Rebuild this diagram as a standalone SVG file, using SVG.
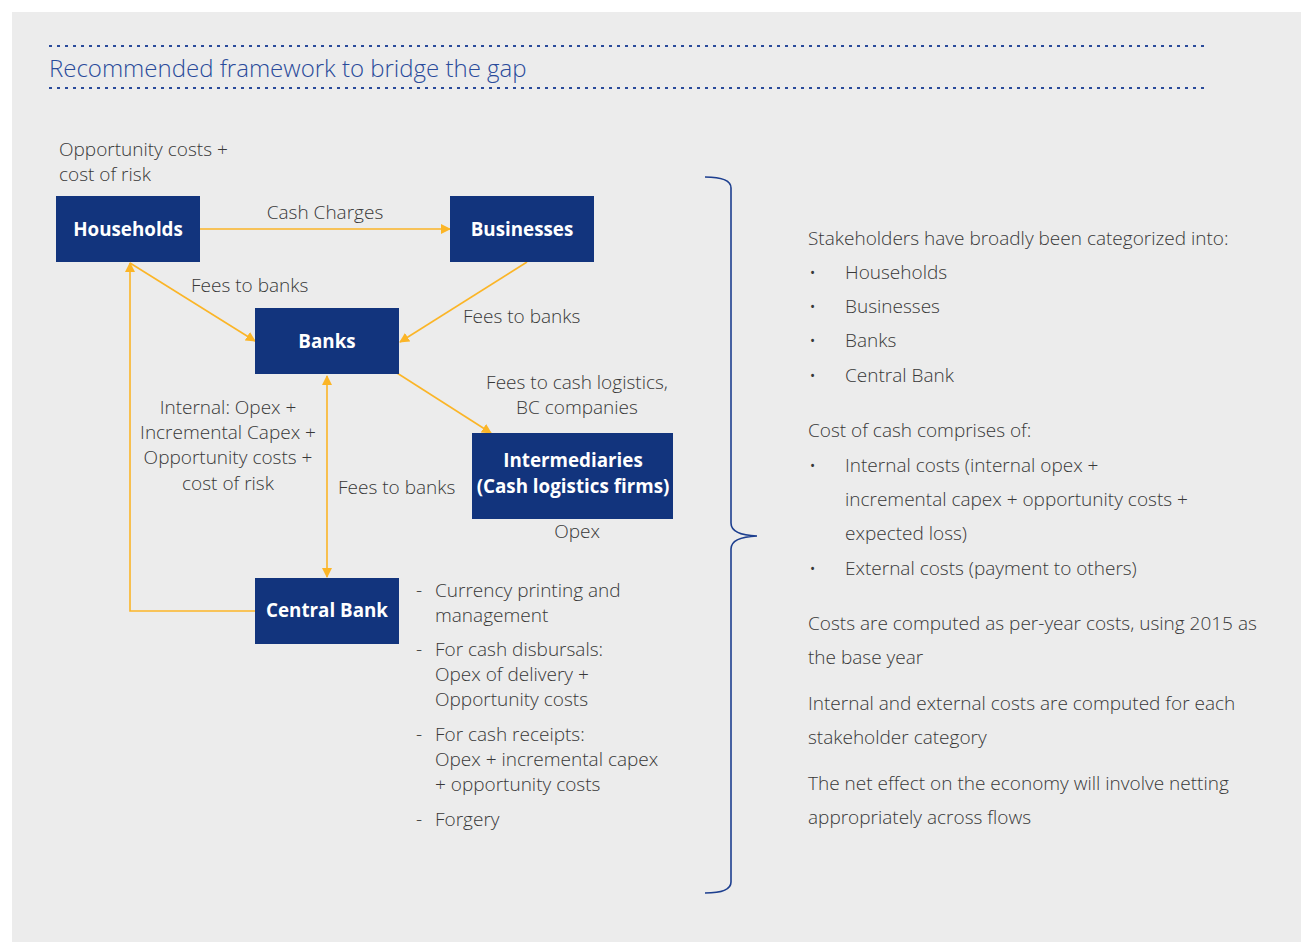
<svg xmlns="http://www.w3.org/2000/svg" width="1301" height="942" viewBox="0 0 1301 942">
<style>
.t{font-family:"Open Sans","Liberation Sans",sans-serif;font-weight:300;font-size:19px;fill:#383838}
.c{text-anchor:middle}
.n{fill:#12347d}
.nt{font-family:"Open Sans","Liberation Sans",sans-serif;font-weight:700;font-size:18.8px;fill:#ffffff;text-anchor:middle}
.e{fill:none;stroke:#fbb527;stroke-width:1.6}
.dot{fill:none;stroke:#2a4b9b;stroke-width:2;stroke-dasharray:3 5}
</style>
<defs>
<marker id="ah" viewBox="0 0 10 10" refX="9" refY="5" markerWidth="10" markerHeight="10" markerUnits="userSpaceOnUse" orient="auto-start-reverse">
<path d="M0,0 L10,5 L0,10 z" fill="#fbb527"/>
</marker>
</defs>
<rect x="0" y="0" width="1301" height="942" fill="#ffffff"/>
<rect x="12" y="12" width="1289" height="930" fill="#ececec"/>
<line class="dot" x1="49" y1="46" x2="1207" y2="46"/>
<line class="dot" x1="49" y1="88" x2="1207" y2="88"/>
<text x="49" y="77" style="font-family:'Open Sans','Liberation Sans',sans-serif;font-weight:300;font-size:24px;fill:#2a4b9b">Recommended framework to bridge the gap</text>

<g id="connectors">
<line class="e" x1="200" y1="229" x2="450" y2="229" marker-end="url(#ah)"/>
<line class="e" x1="130" y1="263" x2="255" y2="341" marker-end="url(#ah)"/>
<line class="e" x1="527" y1="262" x2="400" y2="342" marker-end="url(#ah)"/>
<line class="e" x1="397" y1="373" x2="491" y2="433" marker-end="url(#ah)"/>
<line class="e" x1="327" y1="376" x2="327" y2="577" marker-start="url(#ah)" marker-end="url(#ah)"/>
<polyline class="e" points="255,611 130,611 130,263" marker-end="url(#ah)"/>
</g>

<g id="households"><rect class="n" x="56" y="196" width="144" height="66"/><text class="nt" x="128" y="236">Households</text></g>
<g id="businesses"><rect class="n" x="450" y="196" width="144" height="66"/><text class="nt" x="522" y="236">Businesses</text></g>
<g id="banks"><rect class="n" x="255" y="308" width="144" height="66"/><text class="nt" x="327" y="348">Banks</text></g>
<g id="intermediaries"><rect class="n" x="472" y="433" width="201" height="86"/><text class="nt" x="573" y="467">Intermediaries</text><text class="nt" x="573" y="493">(Cash logistics firms)</text></g>
<g id="central-bank"><rect class="n" x="255" y="578" width="144" height="66"/><text class="nt" x="327" y="617">Central Bank</text></g>

<g id="labels">
<text class="t" x="59" y="156">Opportunity costs +</text>
<text class="t" x="59" y="181">cost of risk</text>
<text class="t c" x="325" y="219">Cash Charges</text>
<text class="t" x="191" y="292">Fees to banks</text>
<text class="t" x="463" y="323">Fees to banks</text>
<text class="t c" x="577" y="389">Fees to cash logistics,</text>
<text class="t c" x="577" y="414">BC companies</text>
<text class="t c" x="228" y="414">Internal: Opex +</text>
<text class="t c" x="228" y="439">Incremental Capex +</text>
<text class="t c" x="228" y="464">Opportunity costs +</text>
<text class="t c" x="228" y="490">cost of risk</text>
<text class="t" x="338" y="494">Fees to banks</text>
<text class="t c" x="577" y="538">Opex</text>
<text class="t" x="416" y="597">-</text>
<text class="t" x="435" y="597">Currency printing and</text>
<text class="t" x="435" y="622">management</text>
<text class="t" x="416" y="656">-</text>
<text class="t" x="435" y="656">For cash disbursals:</text>
<text class="t" x="435" y="681">Opex of delivery +</text>
<text class="t" x="435" y="706">Opportunity costs</text>
<text class="t" x="416" y="741">-</text>
<text class="t" x="435" y="741">For cash receipts:</text>
<text class="t" x="435" y="766">Opex + incremental capex</text>
<text class="t" x="435" y="791">+ opportunity costs</text>
<text class="t" x="416" y="826">-</text>
<text class="t" x="435" y="826">Forgery</text>
</g>

<path id="brace" d="M705,177 Q731,177 731,188 L731,523 Q731,535 757,536 Q731,537 731,549 L731,882 Q731,893 705,893" fill="none" stroke="#1d3f8f" stroke-width="1.6"/>

<g id="notes">
<text class="t" x="808" y="245">Stakeholders have broadly been categorized into:</text>
<text class="t" x="809" y="279">•</text><text class="t" x="845" y="279">Households</text>
<text class="t" x="809" y="313">•</text><text class="t" x="845" y="313">Businesses</text>
<text class="t" x="809" y="347">•</text><text class="t" x="845" y="347">Banks</text>
<text class="t" x="809" y="382">•</text><text class="t" x="845" y="382">Central Bank</text>
<text class="t" x="808" y="437">Cost of cash comprises of:</text>
<text class="t" x="809" y="472">•</text><text class="t" x="845" y="472">Internal costs (internal opex +</text>
<text class="t" x="845" y="506">incremental capex + opportunity costs +</text>
<text class="t" x="845" y="540">expected loss)</text>
<text class="t" x="809" y="575">•</text><text class="t" x="845" y="575">External costs (payment to others)</text>
<text class="t" x="808" y="630">Costs are computed as per-year costs, using 2015 as</text>
<text class="t" x="808" y="664">the base year</text>
<text class="t" x="808" y="710">Internal and external costs are computed for each</text>
<text class="t" x="808" y="744">stakeholder category</text>
<text class="t" x="808" y="790">The net effect on the economy will involve netting</text>
<text class="t" x="808" y="824">appropriately across flows</text>
</g>
</svg>
